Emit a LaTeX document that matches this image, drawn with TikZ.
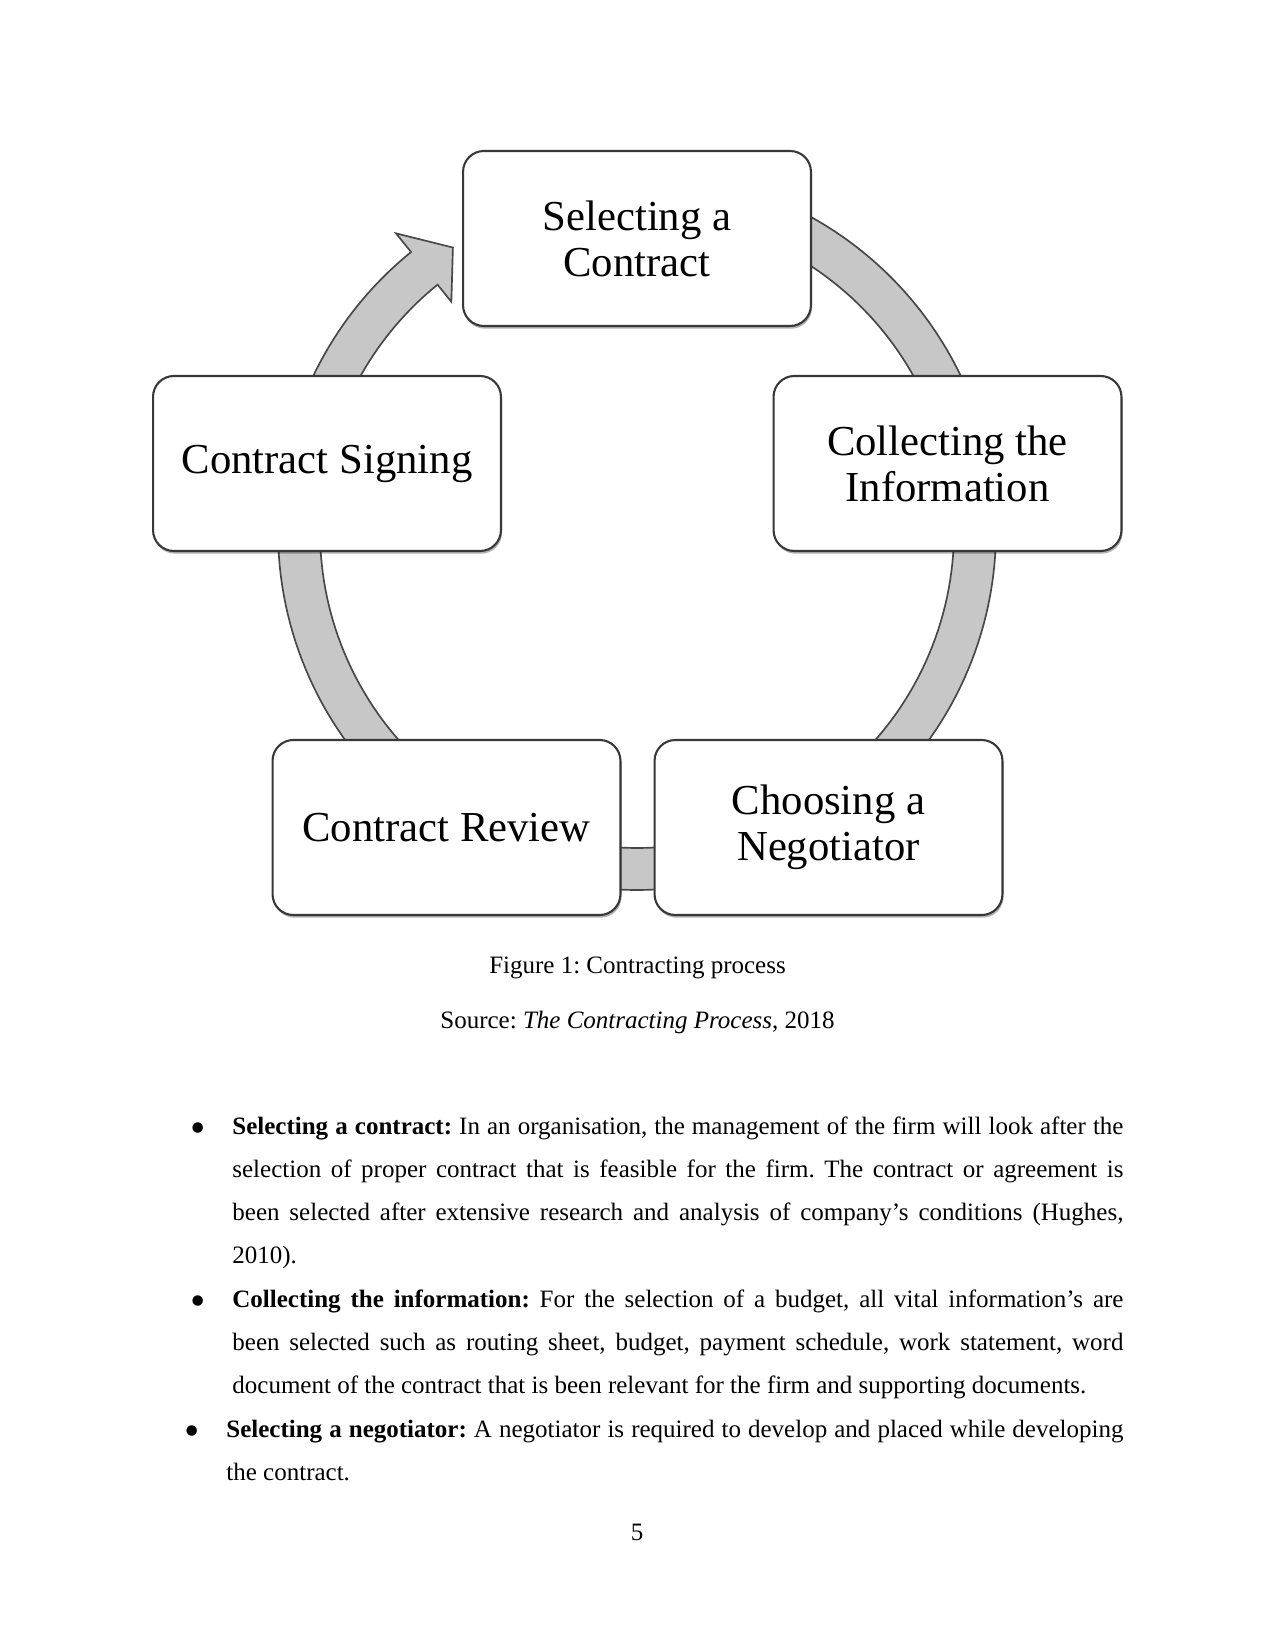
\documentclass[tikz,border=0pt]{standalone}
\usepackage{fontspec}
\setmainfont{Liberation Serif}
\usetikzlibrary{backgrounds,shadows}
\frenchspacing

\begin{document}
\begin{tikzpicture}[
  x=0.48pt, y=-0.48pt,
  stage/.style={draw=black!78, line width=1pt, rounded corners=10pt, fill=white, minimum width=167pt, minimum height=84pt, align=center, inner sep=2pt, font=\fontsize{20.5}{22}\selectfont, drop shadow={shadow xshift=0.5pt, shadow yshift=-1.3pt, opacity=0.3, fill=black}},
  band/.style={draw=black!72, line width=0.8pt, fill=black!22},
  caption/.style={anchor=base, inner sep=0pt, font=\fontsize{12}{14}\selectfont},
  item/.style={anchor=north west, inner sep=0pt, align=justify, font={\fontsize{12}{20.64}\selectfont\hyphenpenalty=10000\tolerance=9999}},
  dot/.style={anchor=base, inner sep=0pt, font=\fontsize{21}{24}\selectfont}
]
\useasboundingbox (0,0) rectangle (1275,1651);

\node[stage] (sel) at (637,238.5) {Selecting a\\Contract};
\node[stage] (coll) at (947.5,463.5) {Collecting the\\Information};
\node[stage] (choose) at (828.5,827.5) {Choosing a\\Negotiator};
\node[stage] (review) at (446.5,827.5) {Contract Review};
\node[stage] (sign) at (327,463.5) {Contract Signing};

\begin{scope}[on background layer]
  \fill[white] (0,0) rectangle (1275,1651);
  \begin{scope}[shift={(637,531)}]
    \path[band] plot[domain=-75:-15, samples=40] (\x:359) -- plot[domain=-15:-75, samples=40] (\x:317) -- cycle;
    \path[band] plot[domain=-5:55, samples=40] (\x:359) -- plot[domain=55:-5, samples=40] (\x:317) -- cycle;
    \path[band] plot[domain=70:110, samples=30] (\x:359) -- plot[domain=110:70, samples=30] (\x:317) -- cycle;
    \path[band] plot[domain=125:185, samples=40] (\x:359) -- plot[domain=185:125, samples=40] (\x:317) -- cycle;
    \path[band] plot[domain=195:231, samples=30] (\x:359) -- (231:383) -- (237:338) -- (231:295) -- plot[domain=231:195, samples=30] (\x:317) -- cycle;
  \end{scope}
\end{scope}

\node[caption] (cap) at (637.5,973) {Figure 1: Contracting process};
\node[caption] (src) at (637.5,1028) {Source: \textit{The Contracting Process}, 2018};

\node[dot] (b1) at (198,1142) {\textbullet};
\node[dot] (b2) at (198,1315) {\textbullet};
\node[dot] (b3) at (192,1445) {\textbullet};

\node[item, text width=427.7pt] (i1) at (232,1113.2) {\rule{0pt}{10pt}\textbf{Selecting a contract:} In an organisation, the management of the firm will look after the\linebreak selection of proper contract that is feasible for the firm. The contract or agreement is\linebreak been selected after extensive research and analysis of company’s conditions (Hughes,\linebreak 2010).};
\node[item, text width=427.7pt] (i2) at (232,1286.2) {\rule{0pt}{10pt}\textbf{Collecting the information:} For the selection of a budget, all vital information’s are\linebreak been selected such as routing sheet, budget, payment schedule, work statement, word\linebreak document of the contract that is been relevant for the firm and supporting documents.};
\node[item, text width=430.6pt] (i3) at (226,1416.2) {\rule{0pt}{10pt}\textbf{Selecting a negotiator:} A negotiator is required to develop and placed while developing\linebreak the contract.};

\node[caption] (pnum) at (637,1540) {5};
\end{tikzpicture}
\end{document}
